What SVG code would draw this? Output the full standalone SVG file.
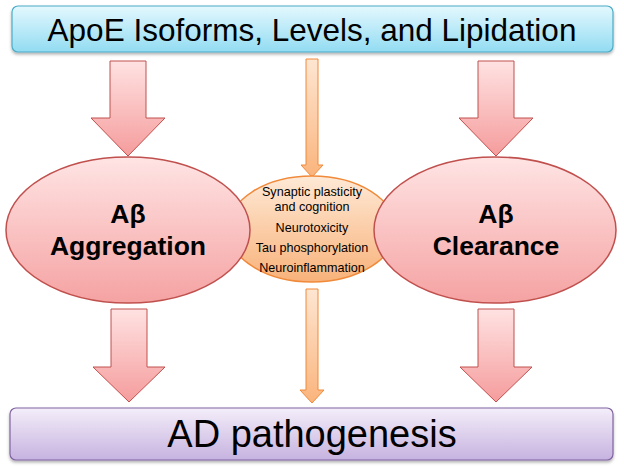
<svg xmlns="http://www.w3.org/2000/svg" width="624" height="468" viewBox="0 0 624 468">
<defs>
<linearGradient id="gTop" x1="0" y1="0" x2="0" y2="1"><stop offset="0" stop-color="#e4f8fe"/><stop offset="1" stop-color="#92dcf2"/></linearGradient>
<linearGradient id="gBot" x1="0" y1="0" x2="0" y2="1"><stop offset="0" stop-color="#f4eef9"/><stop offset="1" stop-color="#c6b2e0"/></linearGradient>
<linearGradient id="gPink" x1="0" y1="0" x2="0" y2="1"><stop offset="0" stop-color="#ffe4e4"/><stop offset="1" stop-color="#f5a2a2"/></linearGradient>
<linearGradient id="gPinkArr" x1="0" y1="0" x2="0" y2="1"><stop offset="0" stop-color="#ffe2e2"/><stop offset="1" stop-color="#f59c9c"/></linearGradient>
<linearGradient id="gOrange" x1="0" y1="0" x2="0" y2="1"><stop offset="0" stop-color="#fee9d6"/><stop offset="1" stop-color="#f8b27a"/></linearGradient>
<linearGradient id="gOrArr" x1="0" y1="0" x2="0" y2="1"><stop offset="0" stop-color="#fee6d2"/><stop offset="1" stop-color="#fab47c"/></linearGradient>
<filter id="sh" x="-5%" y="-10%" width="110%" height="130%"><feDropShadow dx="0" dy="2" stdDeviation="1.5" flood-color="#000" flood-opacity="0.3"/></filter>
</defs>
<style>
.pa{fill:url(#gPinkArr);stroke:#c0504d;stroke-width:1}
.oa{fill:url(#gOrArr);stroke:#f08a3a;stroke-width:1}
.pe{fill:url(#gPink);stroke:#c0504d;stroke-width:1.5}
.big{font-family:"Liberation Sans",Arial,sans-serif;fill:#000;text-anchor:middle}
.bold{font-family:"Liberation Sans",Arial,sans-serif;font-weight:bold;font-size:26.5px;fill:#000;text-anchor:middle}
.sm{font-family:"Liberation Sans",Arial,sans-serif;font-size:12.6px;fill:#000;text-anchor:middle}
</style>
<g id="connectors">
<path class="pa" d="M110,61 H146 V118 H165 L128,156 L91,118 H110 Z"/>
<path class="pa" d="M478,61 H514 V118 H533 L496,156 L459,118 H478 Z"/>
<path class="oa" d="M306,59 H318 V165 H323 L312,177 L301,165 H306 Z"/>
<path class="pa" d="M111,309 H147 V367 H165 L129,402 L93,367 H111 Z"/>
<path class="pa" d="M478,309 H514 V367 H532 L496,402 L460,367 H478 Z"/>
<path class="oa" d="M306,289 H318 V390 H324 L312,403 L300,390 H306 Z"/>
</g>
<g id="top">
<rect x="12" y="6" width="601" height="46" rx="6" fill="url(#gTop)" stroke="#4bacc6" stroke-width="1.2" filter="url(#sh)"/>
<text class="big" x="312" y="41" font-size="31.5">ApoE Isoforms, Levels, and Lipidation</text>
</g>
<g id="effects">
<ellipse cx="312" cy="229" rx="84" ry="53" fill="url(#gOrange)" stroke="#f08a3a" stroke-width="1.5"/>
<text class="sm" x="312" y="196">Synaptic plasticity</text>
<text class="sm" x="312" y="211">and cognition</text>
<text class="sm" x="312" y="232">Neurotoxicity</text>
<text class="sm" x="312" y="252">Tau phosphorylation</text>
<text class="sm" x="312" y="272">Neuroinflammation</text>
</g>
<g id="aggregation">
<ellipse class="pe" cx="128" cy="230" rx="122" ry="73"/>
<text class="bold" x="128" y="223">Aβ</text>
<text class="bold" x="128" y="255">Aggregation</text>
</g>
<g id="clearance">
<ellipse class="pe" cx="495" cy="230" rx="121" ry="73"/>
<text class="bold" x="496" y="223">Aβ</text>
<text class="bold" x="496" y="255">Clearance</text>
</g>
<g id="bottom">
<rect x="10" y="408" width="603" height="52" rx="6" fill="url(#gBot)" stroke="#8064a2" stroke-width="1.2" filter="url(#sh)"/>
<text class="big" x="312" y="447" font-size="38">AD pathogenesis</text>
</g>
</svg>
